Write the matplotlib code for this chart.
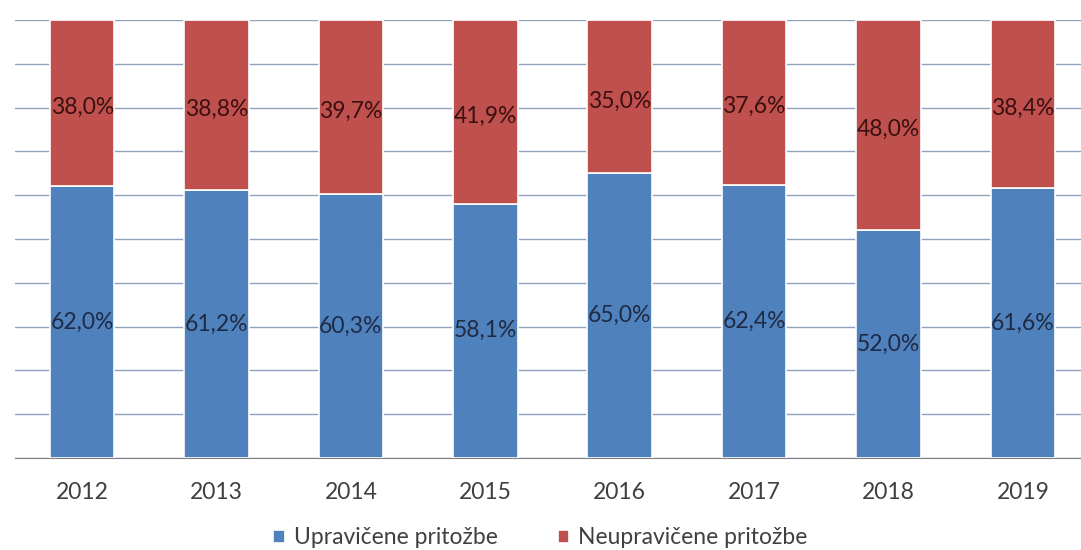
import numpy as np
from matplotlib import pyplot as plt

plt.rcParams['font.family'] = ['Lato', 'DejaVu Sans']

years = ['2012', '2013', '2014', '2015', '2016', '2017', '2018', '2019']
upravicene = [62.0, 61.2, 60.3, 58.1, 65.0, 62.4, 52.0, 61.6]
neupravicene = [38.0, 38.8, 39.7, 41.9, 35.0, 37.6, 48.0, 38.4]

BLUE = '#4F81BD'
RED = '#C0504D'

fig = plt.figure(figsize=(10.81, 5.5), dpi=100)
ax = fig.add_axes([15 / 1081, 92 / 550, 1075 / 1081, 438 / 550])

x = np.arange(len(years))
w = 0.48
ax.bar(x, upravicene, w, color=BLUE, edgecolor='white', linewidth=1.2,
       label='Upravičene pritožbe', zorder=3)
ax.bar(x, neupravicene, w, bottom=upravicene, color=RED, edgecolor='white',
       linewidth=1.2, label='Neupravičene pritožbe', zorder=3)

for i in range(len(years)):
    ax.text(x[i], upravicene[i] / 2, f'{upravicene[i]:.1f}%'.replace('.', ','),
            ha='center', va='center', fontsize=16.5, color='#1F2A44', zorder=4)
    ax.text(x[i], upravicene[i] + neupravicene[i] / 2 - 1,
            f'{neupravicene[i]:.1f}%'.replace('.', ','),
            ha='center', va='center', fontsize=16.5, color='#3A1010', zorder=4)

ax.set_xlim(-0.5, len(years) - 0.5)
ax.set_ylim(0, 100)
ax.set_yticks(np.arange(0, 101, 10))
ax.set_yticklabels([])
ax.yaxis.grid(True, color='#8FA3BD', linewidth=1, zorder=0)
ax.tick_params(axis='y', length=0)
ax.set_xticks(x)
ax.set_xticklabels(years, fontsize=16.5, color='#404040')
ax.tick_params(axis='x', length=0, pad=17)
for s in ['top', 'right', 'left']:
    ax.spines[s].set_visible(False)
ax.spines['bottom'].set_color('#808080')

fig.legend(*ax.get_legend_handles_labels(), loc='center',
           bbox_to_anchor=(0.5, 1 - 538 / 550), ncol=2, frameon=False,
           fontsize=16.5, handlelength=0.5, handleheight=0.5, handletextpad=0.4,
           columnspacing=2.6, labelcolor='#404040', borderaxespad=0, borderpad=0)

fig.savefig('out.png', dpi=100)
